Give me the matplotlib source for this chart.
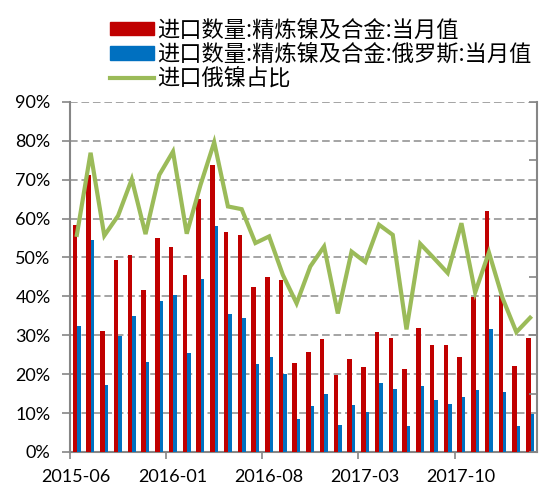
import numpy as np
import matplotlib.pyplot as plt
from matplotlib.patches import Patch
from matplotlib.lines import Line2D
from matplotlib.transforms import ScaledTranslation

plt.rcParams['font.family'] = ['Lato', 'Noto Sans CJK SC', 'DejaVu Sans']

months = ['2015-06', '2015-07', '2015-08', '2015-09', '2015-10', '2015-11', '2015-12',
          '2016-01', '2016-02', '2016-03', '2016-04', '2016-05', '2016-06', '2016-07',
          '2016-08', '2016-09', '2016-10', '2016-11', '2016-12', '2017-01', '2017-02',
          '2017-03', '2017-04', '2017-05', '2017-06', '2017-07', '2017-08', '2017-09',
          '2017-10', '2017-11', '2017-12', '2018-01', '2018-02', '2018-03']

# 进口数量 (万吨, 右轴)
total = [3.89, 4.75, 2.07, 3.29, 3.37, 2.77, 3.67, 3.51, 3.03, 4.33, 4.91, 3.77,
         3.72, 2.83, 2.99, 2.95, 1.52, 1.71, 1.93, 1.32, 1.60, 1.45, 2.05, 1.95,
         1.43, 2.13, 1.83, 1.83, 1.63, 2.65, 4.13, 2.67, 1.48, 1.95]
russia = [2.16, 3.63, 1.14, 1.99, 2.33, 1.54, 2.59, 2.69, 1.69, 2.97, 3.88, 2.36,
          2.30, 1.51, 1.63, 1.33, 0.57, 0.79, 1.00, 0.46, 0.81, 0.69, 1.19, 1.08,
          0.45, 1.13, 0.89, 0.83, 0.95, 1.06, 2.10, 1.03, 0.45, 0.65]
# 进口俄镍占比 (左轴)
share = [55.8, 76.9, 55.6, 60.7, 70.1, 56.0, 71.2, 77.2, 56.1, 68.6, 79.6, 63.1,
         62.4, 53.7, 55.4, 45.5, 38.2, 47.7, 52.8, 35.6, 51.5, 48.8, 58.4, 55.8,
         31.5, 53.5, 49.8, 46.0, 58.8, 41.0, 51.3, 39.5, 30.8, 34.5]

tick_months = ['2015-06', '2016-01', '2016-08', '2017-03', '2017-10']

red = '#C00000'
blue = '#0070C0'
green = '#9BBB59'
axis_gray = '#868686'

x = np.arange(len(months))

fig = plt.figure(figsize=(5.4, 4.87), dpi=100)
ax = fig.add_axes([0.1296, 0.0719, 0.8648, 0.7191])

# left axis: percent, grid
ax.set_ylim(0, 90)
ax.set_xlim(0, len(months))
ax.set_yticks(np.arange(0, 91, 10))
ax.set_yticklabels([f'{v}%' for v in range(0, 91, 10)], fontsize=13)
ax.yaxis.grid(True, linestyle=(0, (5, 2.5)), color='#8c8c8c', linewidth=1.1)
ax.set_axisbelow(True)
tick_pos = [months.index(m) for m in tick_months]
ax.set_xticks(tick_pos)
ax.set_xticklabels(tick_months, fontsize=13)
ax.tick_params(axis='y', direction='out', length=6, width=1.2, color=axis_gray, pad=8)
ax.tick_params(axis='x', direction='out', length=5, width=1.2, color=axis_gray, pad=7)
for lbl in ax.get_xticklabels():
    lbl.set_transform(lbl.get_transform() + ScaledTranslation(4.5 / 72, 0, fig.dpi_scale_trans))
for s in ['top', 'right']:
    ax.spines[s].set_visible(False)
for s in ['left', 'bottom']:
    ax.spines[s].set_color(axis_gray)
    ax.spines[s].set_linewidth(1.5)

# right axis: bars
axr = ax.twinx()
axr.set_ylim(0, 6)
axr.set_yticks(np.arange(0, 7))
axr.set_yticklabels([])
axr.tick_params(axis='y', direction='in', length=6, width=1.2, color=axis_gray)
axr.bar(x + 0.2, total, width=0.33, align='edge', color=red)
axr.bar(x + 0.53, russia, width=0.25, align='edge', color=blue)
for s in ['top', 'left', 'bottom']:
    axr.spines[s].set_visible(False)
axr.spines['right'].set_color(axis_gray)
axr.spines['right'].set_linewidth(1.5)

# share line on top
axl = ax.twinx()
axl.set_ylim(0, 90)
axl.plot(x + 0.5, share, color=green, linewidth=3, solid_joinstyle='miter')
axl.set_yticks([])
for s in axl.spines.values():
    s.set_visible(False)

handles = [Patch(color=red), Patch(color=blue), Line2D([0], [0], color=green, linewidth=3)]
labels = ['进口数量:精炼镍及合金:当月值', '进口数量:精炼镍及合金:俄罗斯:当月值', '进口俄镍占比']
fig.legend(handles, labels, loc='upper left', bbox_to_anchor=(0.172, 0.996), frameon=False,
           prop={'family': ['Noto Sans CJK SC'], 'size': 16},
           handlelength=2.0, handleheight=0.55, handletextpad=0.15, labelspacing=0.05,
           borderaxespad=0.35)

fig.savefig('out.png', dpi=100)
